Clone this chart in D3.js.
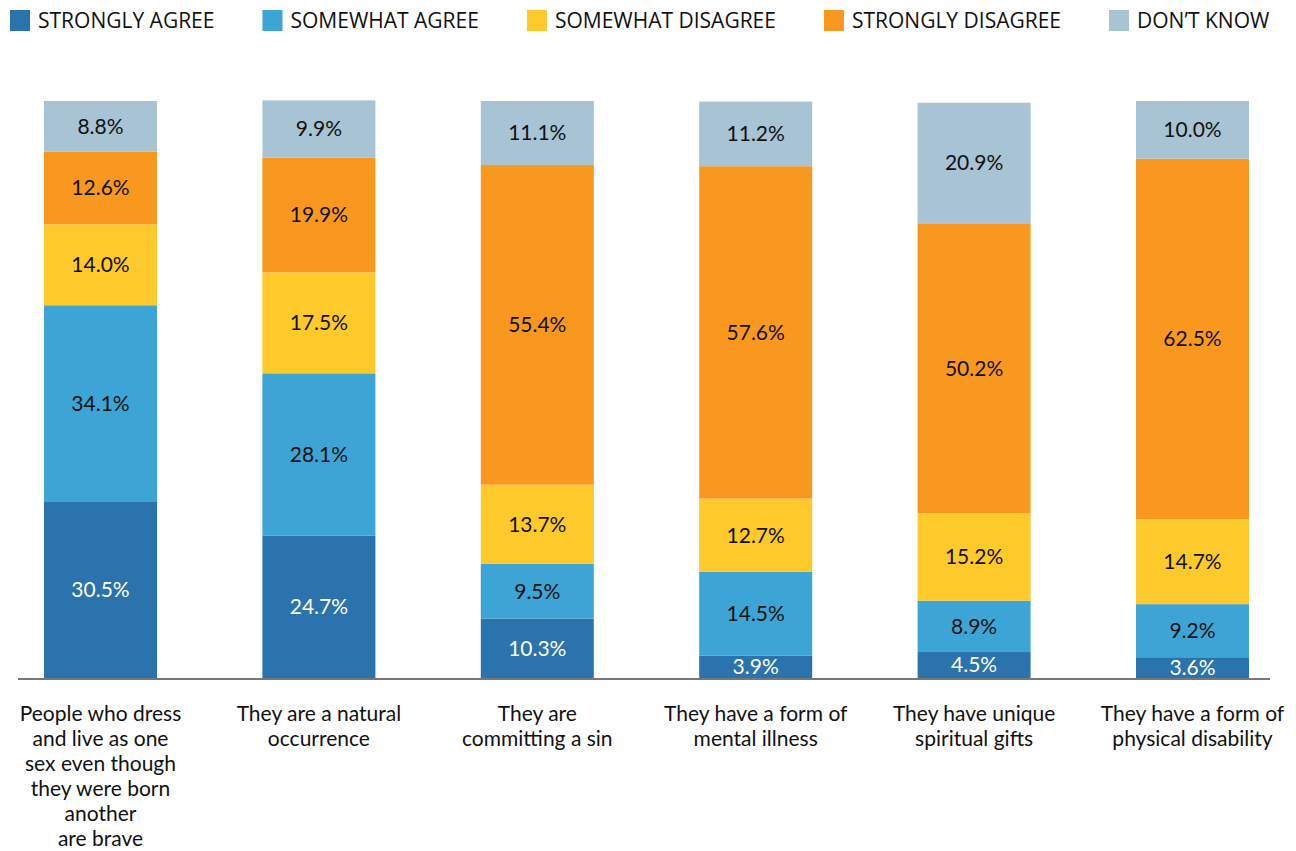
<!DOCTYPE html>
<html>
<head>
<meta charset="utf-8">
<script src="https://cdn.jsdelivr.net/npm/d3@7"></script>
<style>
  body { margin: 0; background: #fff; }
  svg { display: block; }
</style>
</head>
<body>
<div id="chart"></div>
<script>
// Data
const categories = [
    ["People who dress", "and live as one", "sex even though", "they were born", "another", "are brave"],
    ["They are a natural", "occurrence"],
    ["They are", "committing a sin"],
    ["They have a form of", "mental illness"],
    ["They have unique", "spiritual gifts"],
    ["They have a form of", "physical disability"]
];
const seriesNames = ["STRONGLY AGREE", "SOMEWHAT AGREE", "SOMEWHAT DISAGREE", "STRONGLY DISAGREE", "DON\u2019T KNOW"];
const stronglyAgree = [30.5, 24.7, 10.3, 3.9, 4.5, 3.6];
const somewhatAgree = [34.1, 28.1, 9.5, 14.5, 8.9, 9.2];
const somewhatDisagree = [14.0, 17.5, 13.7, 12.7, 15.2, 14.7];
const stronglyDisagree = [12.6, 19.9, 55.4, 57.6, 50.2, 62.5];
const dontKnow = [8.8, 9.9, 11.1, 11.2, 20.9, 10.0];
const colors = ["#2a73ad", "#3ca5d6", "#fec92b", "#f8981e", "#a7c3d4"];
const textColors = ["#fff", "#111", "#111", "#111", "#111"];

const width = 1296, height = 851;
const svg = d3.select("#chart").append("svg")
    .attr("width", width)
    .attr("height", height);

const keys = seriesNames;
const table = categories.map((c, i) => ({
    idx: i,
    [keys[0]]: stronglyAgree[i],
    [keys[1]]: somewhatAgree[i],
    [keys[2]]: somewhatDisagree[i],
    [keys[3]]: stronglyDisagree[i],
    [keys[4]]: dontKnow[i]
}));

const stacked = d3.stack().keys(keys)(table);

const x = d3.scalePoint()
    .domain(d3.range(categories.length))
    .range([100.5, 1192.5]);
const barW = 113;

const y = d3.scaleLinear().domain([0, 100]).range([678, 101]);

const color = d3.scaleOrdinal().domain(keys).range(colors);

// bars
const layers = svg.selectAll(".layer")
    .data(stacked)
    .enter().append("g")
    .attr("class", "layer")
    .attr("fill", d => color(d.key));

layers.selectAll("rect")
    .data(d => d)
    .enter().append("rect")
    .attr("x", d => x(d.data.idx) - barW / 2)
    .attr("y", d => y(d[1]))
    .attr("width", barW)
    .attr("height", d => y(d[0]) - y(d[1]));

// value labels
stacked.forEach((layer, li) => {
    svg.append("g").selectAll("text")
        .data(layer)
        .enter().append("text")
        .attr("x", d => x(d.data.idx))
        .attr("y", d => (y(d[0]) + y(d[1])) / 2)
        .attr("dy", "0.35em")
        .attr("text-anchor", "middle")
        .attr("font-family", "Lato, sans-serif")
        .attr("font-size", 21)
        .attr("fill", textColors[li])
        .text(d => d.data[layer.key].toFixed(1) + "%");
});

// axis baseline
svg.append("line")
    .attr("x1", 18).attr("x2", 1270)
    .attr("y1", y(0) + 1).attr("y2", y(0) + 1)
    .attr("stroke", "#777")
    .attr("stroke-width", 2);

// category labels
svg.append("g").selectAll("text")
    .data(categories)
    .enter().append("text")
    .attr("text-anchor", "middle")
    .attr("font-family", "Lato, sans-serif")
    .attr("font-size", 21)
    .attr("fill", "#111")
    .attr("transform", (d, i) => `translate(${x(i)},721)`)
    .each(function(lines) {
        d3.select(this).selectAll("tspan")
            .data(lines)
            .enter().append("tspan")
            .attr("x", 0)
            .attr("y", (l, j) => j * 25)
            .text(l => l);
    });

// legend
const legend = svg.append("g").attr("class", "legend");
let lx = 10;
keys.forEach((k, i) => {
    const g = legend.append("g").attr("transform", `translate(${lx},0)`);
    g.append("rect")
        .attr("x", 0).attr("y", 10)
        .attr("width", 20).attr("height", 21)
        .attr("fill", color(k));
    const t = g.append("text")
        .attr("x", 28).attr("y", 28)
        .attr("font-family", "'Open Sans', sans-serif")
        .attr("font-size", 21)
        .attr("fill", "#111")
        .text(k);
    lx += 28 + t.node().getComputedTextLength() + 48;
});
</script>
</body>
</html>
